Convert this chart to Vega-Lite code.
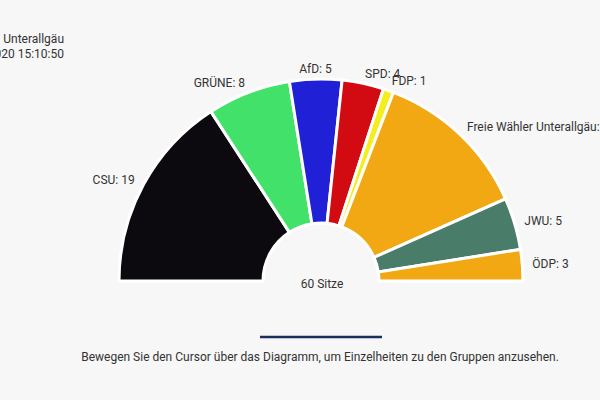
{
  "$schema": "https://vega.github.io/schema/vega-lite/v6.json",
  "width": 600,
  "height": 400,
  "autosize": "none",
  "padding": 0,
  "background": "#f7f7f7",
  "view": {"stroke": null},
  "config": {"font": "Roboto", "text": {"font": "Roboto", "fontSize": 12, "color": "#333333"}},
  "data": {
    "values": [
      {"party": "CSU", "seats": 19, "i": 1, "label": "CSU: 19"},
      {"party": "GRÜNE", "seats": 8, "i": 2, "label": "GRÜNE: 8"},
      {"party": "AfD", "seats": 5, "i": 3, "label": "AfD: 5"},
      {"party": "SPD", "seats": 4, "i": 4, "label": "SPD: 4"},
      {"party": "FDP", "seats": 1, "i": 5, "label": "FDP: 1"},
      {"party": "Freie Wähler Unterallgäu", "seats": 15, "i": 6, "label": "Freie Wähler Unterallgäu: 15"},
      {"party": "JWU", "seats": 5, "i": 7, "label": "JWU: 5"},
      {"party": "ÖDP", "seats": 3, "i": 8, "label": "ÖDP: 3"}
    ]
  },
  "layer": [
    {
      "mark": {"type": "arc", "x": 321, "y": 281, "radius": 202, "radius2": 58, "stroke": "#ffffff", "strokeWidth": 3},
      "encoding": {
        "theta": {"field": "seats", "type": "quantitative", "stack": true, "scale": {"range": [-1.5708, 1.5708]}},
        "order": {"field": "i", "type": "quantitative"},
        "color": {
          "field": "party", "type": "nominal", "legend": null,
          "scale": {
            "domain": ["CSU", "GRÜNE", "AfD", "SPD", "FDP", "Freie Wähler Unterallgäu", "JWU", "ÖDP"],
            "range": ["#0c0a0e", "#42e26a", "#2020d6", "#d20a11", "#f4ee1c", "#f2a813", "#4a7d69", "#f2a813"]
          }
        }
      }
    },
    {
      "mark": {
        "type": "text", "x": 321, "y": 281, "radius": 212, "baseline": "middle",
        "align": {"expr": "(datum.seats_start + datum.seats_end) / 2 < 28 ? 'right' : ((datum.seats_start + datum.seats_end) / 2 < 33 ? 'center' : 'left')"}
      },
      "encoding": {
        "theta": {"field": "seats", "type": "quantitative", "stack": true},
        "order": {"field": "i", "type": "quantitative"},
        "detail": {"field": "party", "type": "nominal"},
        "text": {"field": "label", "type": "nominal"}
      }
    },
    {
      "data": {"values": [{"t": "60 Sitze"}]},
      "mark": {"type": "text", "x": 322, "y": 284, "align": "center", "baseline": "middle"},
      "encoding": {"text": {"field": "t", "type": "nominal"}}
    },
    {
      "data": {"values": [{"t": ["Unterallgäu", "2020 15:10:50"]}]},
      "mark": {"type": "text", "x": 64, "y": 39, "align": "right", "baseline": "middle", "lineHeight": 15},
      "encoding": {"text": {"field": "t", "type": "nominal"}}
    },
    {
      "data": {"values": [{"t": "line"}]},
      "mark": {"type": "rule", "color": "#1b2f5e", "strokeWidth": 2.5},
      "encoding": {"x": {"value": 260}, "x2": {"value": 382}, "y": {"value": 337}}
    },
    {
      "data": {"values": [{"t": "Bewegen Sie den Cursor über das Diagramm, um Einzelheiten zu den Gruppen anzusehen."}]},
      "mark": {"type": "text", "x": 320, "y": 357, "align": "center", "baseline": "middle"},
      "encoding": {"text": {"field": "t", "type": "nominal"}}
    }
  ]
}
